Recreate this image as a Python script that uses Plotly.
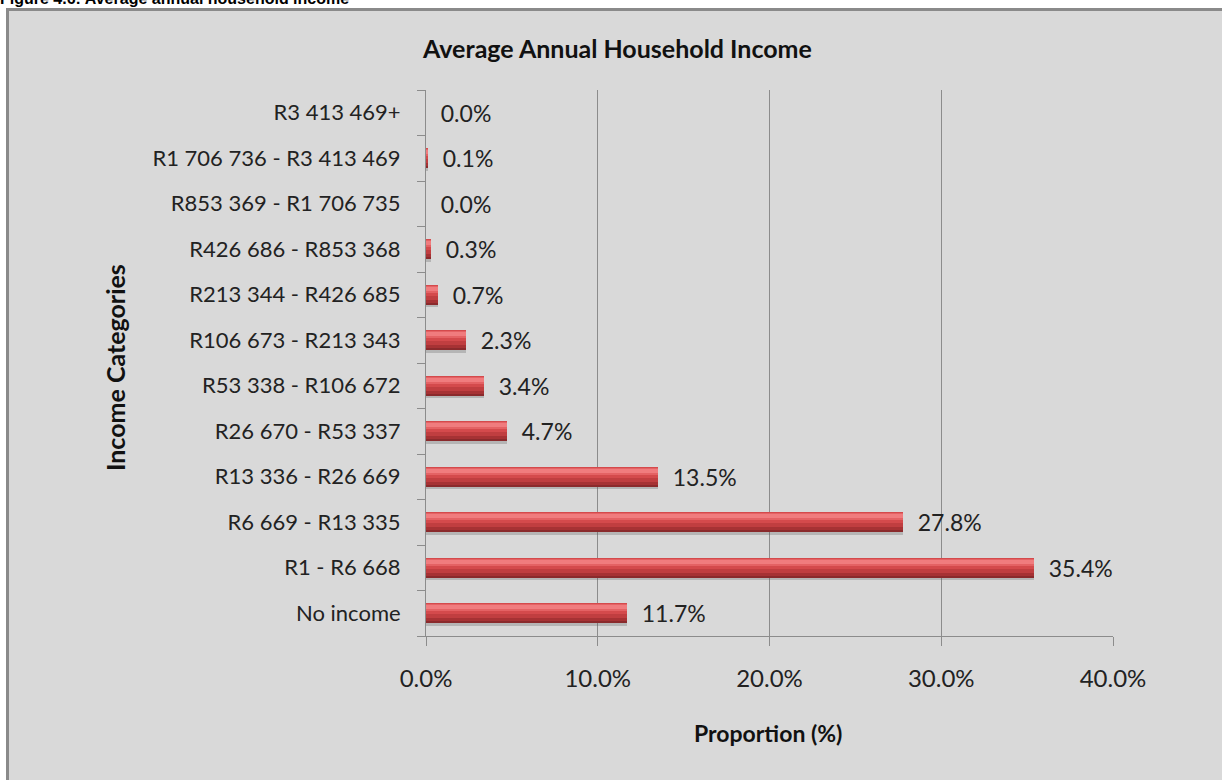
import plotly.graph_objects as go

# Income bands, bottom to top as drawn on the category axis
categories = [
    "No income",
    "R1 - R6 668",
    "R6 669 - R13 335",
    "R13 336 - R26 669",
    "R26 670 - R53 337",
    "R53 338 - R106 672",
    "R106 673 - R213 343",
    "R213 344 - R426 685",
    "R426 686 - R853 368",
    "R853 369 - R1 706 735",
    "R1 706 736 - R3 413 469",
    "R3 413 469+",
]
proportion = [11.7, 35.4, 27.8, 13.5, 4.7, 3.4, 2.3, 0.7, 0.3, 0.0, 0.1, 0.0]
x_ticks = [0, 10, 20, 30, 40]
x_tick_labels = ["0.0%", "10.0%", "20.0%", "30.0%", "40.0%"]

W, H = 1222, 780
L, R, T, B = 426, 109, 90, 144
pw, ph = W - L - R, H - T - B


def px_x(p):
    return (p - L) / pw


def px_y(p):
    return (H - B - p) / ph


FONT = "Lato, 'Open Sans', sans-serif"

fig = go.Figure()


def stripe(offset, width, color, **extra):
    # one horizontal band of the shaded bar, all bands share the same values
    fig.add_trace(go.Bar(
        y=categories, x=proportion, orientation="h", width=width, offset=offset,
        marker=dict(color=color, line=dict(width=0)),
        showlegend=False, **extra,
    ))


# drop shadow
stripe(-0.28, 0.44, "rgba(90,90,90,0.28)", hoverinfo="skip")
# bar body carrying the value labels
stripe(-0.22, 0.44, "#d44a4c",
       texttemplate="  %{x:.1f}%", textposition="outside", constraintext="none",
       textfont=dict(family=FONT, size=23, color="#222222"), cliponaxis=False)
# upper sheen
stripe(0.044, 0.154, "#e46264", hoverinfo="skip")
stripe(0.088, 0.088, "#f07c7e", hoverinfo="skip")
# lower shading
stripe(-0.22, 0.198, "#c03e40", hoverinfo="skip")
stripe(-0.22, 0.11, "#a63234", hoverinfo="skip")
stripe(-0.22, 0.044, "#8a2a2c", hoverinfo="skip")

fig.update_layout(
    width=W, height=H,
    margin=dict(l=L, r=R, t=T, b=B, pad=0),
    paper_bgcolor="white",
    plot_bgcolor="rgba(0,0,0,0)",
    barmode="overlay",
    bargap=0,
    font=dict(family=FONT, color="#222222"),
    shapes=[dict(
        type="rect", xref="paper", yref="paper", layer="below",
        x0=px_x(7.5), x1=px_x(1232), y0=px_y(792), y1=px_y(9.5),
        fillcolor="#d9d9d9", line=dict(color="#8a8a8a", width=3),
    )],
    annotations=[
        dict(text="<b>Average Annual Household Income</b>", xref="paper", yref="paper",
             x=px_x(617), y=px_y(48), xanchor="center", yanchor="middle",
             showarrow=False, font=dict(family=FONT, size=25, color="#111111")),
        dict(text="<b>Figure 4.6: Average annual household income</b>", xref="paper", yref="paper",
             x=px_x(-2), y=px_y(9), xanchor="left", yanchor="bottom",
             showarrow=False, font=dict(family="Liberation Sans, Arial, sans-serif", size=16, color="#000000")),
        dict(text="<b>Income Categories</b>", xref="paper", yref="paper",
             x=px_x(115), y=px_y(368), xanchor="center", yanchor="middle", textangle=-90,
             showarrow=False, font=dict(family=FONT, size=25, color="#111111")),
        dict(text="<b>Proportion (%)</b>", xref="paper", yref="paper",
             x=px_x(768), y=px_y(733), xanchor="center", yanchor="middle",
             showarrow=False, font=dict(family=FONT, size=23, color="#111111")),
    ],
)

fig.update_xaxes(
    range=[0, 40], tickvals=x_ticks, ticktext=x_tick_labels,
    showgrid=True, gridcolor="#8c8c8c", gridwidth=1,
    showline=True, linecolor="#8c8c8c", linewidth=1,
    ticks="outside", ticklen=9, tickcolor="#8c8c8c",
    tickfont=dict(family=FONT, size=24, color="#222222"),
    ticklabelstandoff=12, zeroline=False,
)
fig.update_yaxes(
    type="category", categoryorder="array", categoryarray=categories,
    range=[-0.5, len(categories) - 0.5],
    showgrid=False, showline=True, linecolor="#8c8c8c", linewidth=1,
    ticks="outside", ticklen=8, tickcolor="#8c8c8c", tickson="boundaries",
    tickfont=dict(family=FONT, size=22, color="#222222"),
    ticklabelstandoff=20,
)

fig.write_html("out.html")
